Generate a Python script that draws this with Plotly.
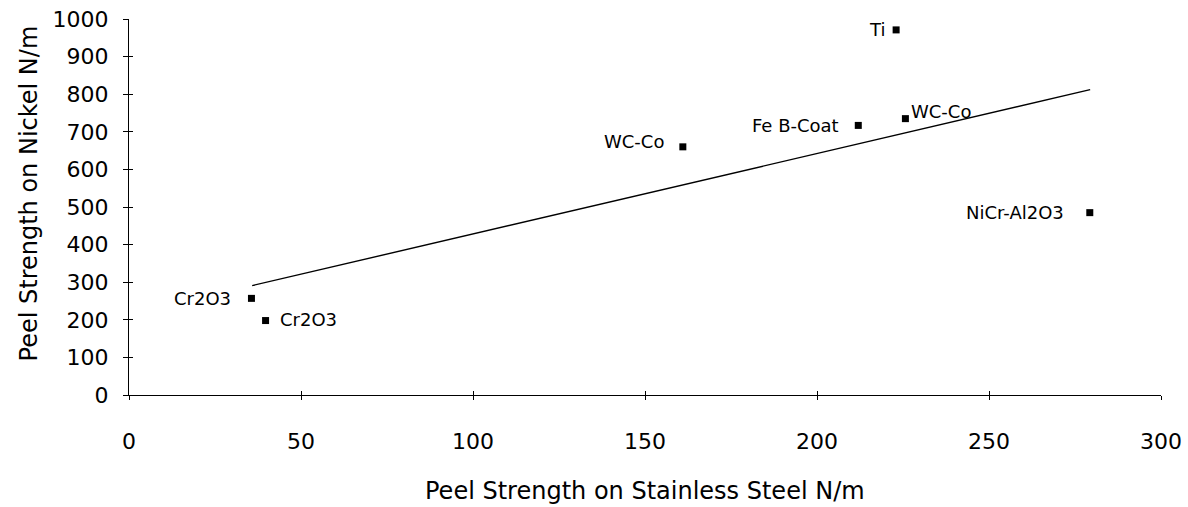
import plotly.graph_objects as go

# ---- data ----
labels = ["Ti", "WC-Co", "Fe B-Coat", "WC-Co", "NiCr-Al2O3", "Cr2O3", "Cr2O3"]
steel = [223, 225.7, 212, 161, 279.3, 35.6, 39.7]       # Peel strength on stainless steel N/m
nickel = [971, 735, 717, 660, 485, 257, 198]            # Peel strength on nickel N/m

trend_x = [35.8, 279.4]
trend_y = [291, 812]

x_ticks = [0, 50, 100, 150, 200, 250, 300]
y_ticks = [0, 100, 200, 300, 400, 500, 600, 700, 800, 900, 1000]

# label placement styles (anchor, x shift px, y shift px)
label_style = [
    ("right", -9, 0),
    ("left", 4, 7),
    ("right", -17, 0),
    ("right", -17, 5),
    ("right", -24, 0),
    ("right", -18, 0),
    ("left", 12, 1),
]

FONT = "DejaVu Sans"

fig = go.Figure()

fig.add_trace(go.Scatter(
    x=trend_x, y=trend_y, mode="lines",
    line=dict(color="black", width=1.4),
    showlegend=False, hoverinfo="skip",
))

fig.add_trace(go.Scatter(
    x=steel, y=nickel, mode="markers",
    marker=dict(symbol="square", size=7, color="black"),
    showlegend=False,
))

# invisible trace to draw the overlay axes (inner half of the cross ticks)
fig.add_trace(go.Scatter(x=[None], y=[None], xaxis="x2", yaxis="y2",
                         showlegend=False, hoverinfo="skip"))

for lab, xv, yv, (anc, dx, dy) in zip(labels, steel, nickel, label_style):
    fig.add_annotation(
        x=xv, y=yv, text=lab, showarrow=False,
        xanchor=anc, yanchor="middle", xshift=dx, yshift=dy,
        font=dict(family=FONT, size=18, color="black"),
    )

# axis titles
fig.add_annotation(
    text="Peel Strength on Stainless Steel N/m", xref="paper", yref="paper",
    x=0.5, y=0, yanchor="middle", xanchor="center", yshift=-96, showarrow=False,
    font=dict(family=FONT, size=24, color="black"),
)
fig.add_annotation(
    text="Peel Strength on Nickel N/m", xref="paper", yref="paper",
    x=0, y=0.536, xanchor="center", yanchor="middle", xshift=-100, textangle=-90,
    showarrow=False, font=dict(family=FONT, size=24, color="black"),
)

axis_common = dict(showgrid=False, zeroline=False, automargin=False)

fig.update_layout(
    width=1188, height=507,
    margin=dict(l=129, r=27, t=19, b=112, autoexpand=False),
    paper_bgcolor="white", plot_bgcolor="white",
    font=dict(family=FONT, color="black"),
    xaxis=dict(
        range=[0, 300], tickvals=x_ticks, ticktext=[str(v) for v in x_ticks],
        showline=True, linecolor="black", linewidth=1.2,
        ticks="outside", ticklen=4, tickwidth=1, tickcolor="black",
        tickfont=dict(family=FONT, size=22, color="black"),
        ticklabelstandoff=22,
        **axis_common,
    ),
    yaxis=dict(
        range=[0, 1000], tickvals=y_ticks, ticktext=[str(v) for v in y_ticks],
        showline=True, linecolor="black", linewidth=1.2,
        ticks="outside", ticklen=5, tickwidth=1, tickcolor="black",
        tickfont=dict(family=FONT, size=22, color="black"),
        ticklabelstandoff=10,
        **axis_common,
    ),
    xaxis2=dict(
        overlaying="x", anchor="y2", side="bottom", range=[0, 300],
        tickvals=x_ticks, showticklabels=False, showline=False,
        ticks="inside", ticklen=4, tickwidth=1, tickcolor="black",
        **axis_common,
    ),
    yaxis2=dict(
        overlaying="y", anchor="x2", side="left", range=[0, 1000],
        tickvals=y_ticks, showticklabels=False, showline=False,
        ticks="inside", ticklen=4, tickwidth=1, tickcolor="black",
        **axis_common,
    ),
)

fig.write_html("out.html")
